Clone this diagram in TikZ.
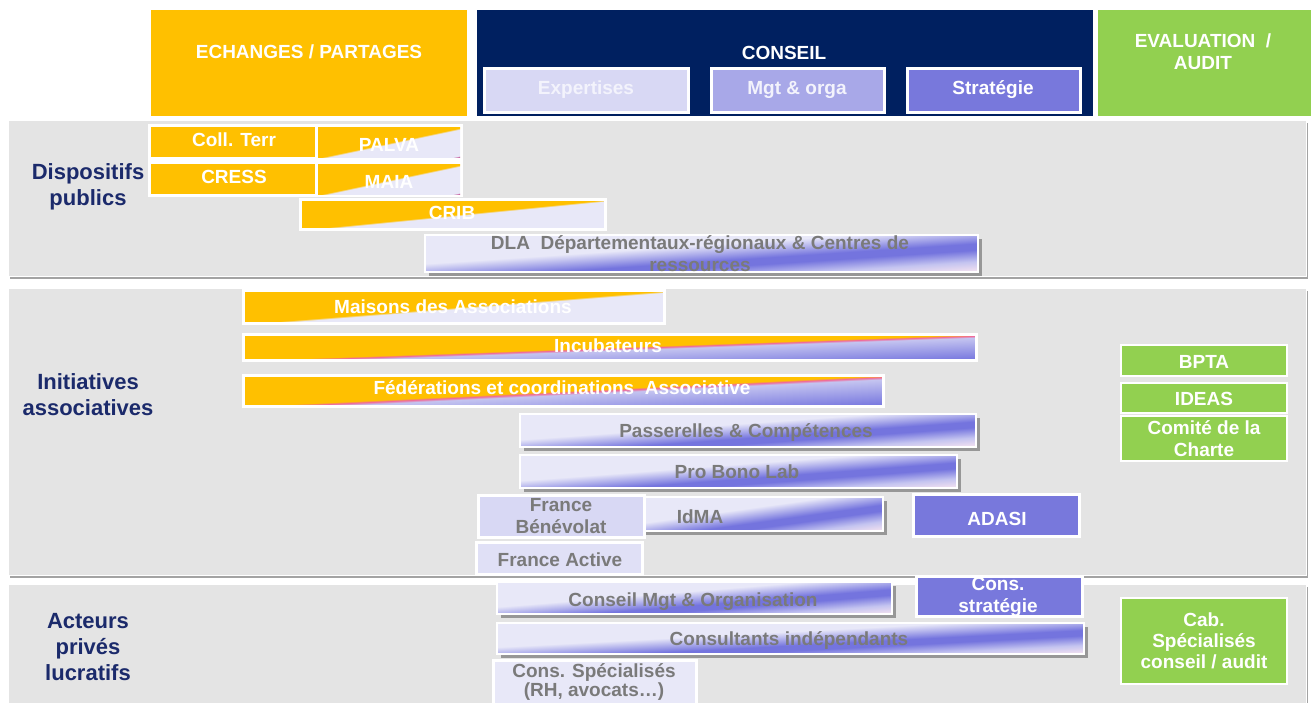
\documentclass[tikz,border=0pt]{standalone}
\usepackage{fontspec}
\setmainfont{Liberation Sans}
\usetikzlibrary{shadows}
\definecolor{orangeC}{HTML}{FFC000}
\definecolor{navyC}{HTML}{002060}
\definecolor{greenC}{HTML}{92D050}
\definecolor{lavA}{HTML}{D8D8F4}
\definecolor{lavB}{HTML}{A8A8E8}
\definecolor{lavC}{HTML}{7878DC}
\definecolor{lavL}{HTML}{E8E8F8}
\definecolor{lavS}{HTML}{C4C4F0}
\definecolor{blueC}{HTML}{7474DE}
\definecolor{pinkC}{HTML}{F8E4F0}
\definecolor{pinkR}{HTML}{F06A9A}
\definecolor{magC}{HTML}{C04890}
\definecolor{bandC}{HTML}{E4E4E4}
\definecolor{labelC}{HTML}{1B2A6B}
\definecolor{grayT}{HTML}{7A7A7A}
\definecolor{expT}{HTML}{F3F3FC}
\pgfdeclareverticalshading{lavbar}{100bp}{color(0bp)=(pinkC); color(14.64bp)=(pinkC); color(25bp)=(lavS); color(36bp)=(blueC); color(42bp)=(blueC); color(58bp)=(lavL); color(100bp)=(lavL)}
\pgfdeclareverticalshading{orbar}{100bp}{color(0bp)=(magC); color(14.64bp)=(magC); color(16.5bp)=(lavL); color(47bp)=(lavL); color(49bp)=(orangeC); color(100bp)=(orangeC)}
\pgfdeclareverticalshading{orblue}{100bp}{color(0bp)=(blueC); color(14.64bp)=(blueC); color(45bp)=(lavS); color(47.5bp)=(pinkR); color(49.5bp)=(orangeC); color(100bp)=(orangeC)}
\newcommand\mkbox[6]{\node[#6,anchor=north west,inner sep=0pt,outer sep=0pt,minimum width={(#4-#2)*1pt},minimum height={(#5-#3)*1pt}] (#1) at (#2,#3) {};}
% name, x1, y1, x2, y2, box style, shading, border style
\newcommand\mkgbar[8]{%
  \mkbox{#1}{#2}{#3}{#4}{#5}{#6}
  \begin{scope}
    \clip (#2,#3) rectangle (#4,#5);
    \pgfmathsetmacro\gsx{(#4-#2)/50}
    \pgfmathsetmacro\gsy{(#5-#3)/50}
    \pgftransformshift{\pgfpointanchor{#1}{center}}
    \pgftransformxscale{\gsx}
    \pgftransformyscale{\gsy}
    \pgftransformrotate{45}
    \pgflowlevelsynccm
    \pgfuseshading{#7}
  \end{scope}
  \path[#8] (#1.north west) rectangle (#1.south east);
}
\newcommand\mklab[5]{\node[#5] (#1) at (#2,#3) {#4};}
\tikzset{
  lbl/.style={font=\fontsize{19}{22}\selectfont\bfseries, inner sep=0pt, align=center, anchor=base},
  wt/.style={lbl, text=white},
  gt/.style={lbl, text=grayT},
  ml/.style={anchor=center},
  side/.style={font=\fontsize{22}{26}\selectfont\bfseries, text=labelC, inner sep=0pt, align=center, anchor=center},
  solidfill/.style={fill=#1, draw=none},
  whiteframe/.style={fill=#1, draw=white, line width=3pt},
  greenbox/.style={fill=greenC, draw=white, line width=1.5pt},
  band/.style={fill=bandC, draw=white, line width=1pt, drop shadow={shadow xshift=2pt, shadow yshift=-3pt, fill=black!60, opacity=.6}},
  gbase/.style={fill=lavL, draw=none, drop shadow={shadow xshift=4pt, shadow yshift=-4pt, fill=black!65, opacity=.55}},
  obase/.style={fill=orangeC, draw=none},
  thinwhite/.style={draw=white, line width=2pt},
  thickwhite/.style={draw=white, line width=3pt},
}
\begin{document}
\begin{tikzpicture}[x=1pt,y=-1pt]
\useasboundingbox[fill=white] (0,0) rectangle (1311,702);
% headers
\mkbox{hEch}{151}{10}{467}{116}{solidfill=orangeC}
\mkbox{hCon}{477}{10}{1093}{116}{solidfill=navyC}
\mkbox{hEva}{1098}{10}{1311}{116}{solidfill=greenC}
\mklab{tEch}{309}{58}{ECHANGES / PARTAGES}{wt}
\mklab{tCon}{784}{59}{CONSEIL}{wt}
\mklab{tEva}{1203}{51.5}{EVALUATION~ /\\AUDIT}{wt,ml}
\mkbox{bExp}{484}{68}{688}{112}{whiteframe=lavA}
\mkbox{bMgt}{711}{68}{884}{112}{whiteframe=lavB}
\mkbox{bStr}{907}{68}{1080}{112}{whiteframe=lavC}
\mklab{tExp}{586}{94}{Expertises}{lbl,text=expT}
\mklab{tMgt}{797}{94}{Mgt \& orga}{lbl,text=expT}
\mklab{tStr}{993}{94}{Stratégie}{wt}
% bands
\mkbox{band1}{8}{120}{1306}{276}{band}
\mkbox{band2}{8}{288}{1306}{575}{band}
\mkbox{band3}{8}{584}{1306}{712}{band}
\mklab{sDis}{88}{187}{Dispositifs\\publics}{side}
\mklab{sIni}{88}{395}{Initiatives\\associatives}{side}
\mklab{sAct}{88}{647}{Acteurs\\privés\\lucratifs}{side}
% band 1
\mkbox{gFrame}{148}{124}{463}{197}{solidfill=white}
\mkbox{bColl}{151}{127}{315}{157}{solidfill=orangeC}
\mkgbar{bPalva}{318}{127}{460}{157}{obase}{orbar}{draw=none}
\mkbox{bCress}{151}{164}{315}{194}{solidfill=orangeC}
\mkgbar{bMaia}{318}{164}{460}{194}{obase}{orbar}{draw=none}
\mkgbar{bCrib}{300}{199}{605}{229}{obase}{orbar}{thickwhite}
\mkgbar{bDla}{425}{235}{978}{272}{gbase}{lavbar}{thinwhite}
\mklab{tColl}{234}{146}{Coll. Terr}{wt}
\mklab{tPalva}{389}{151}{PALVA}{wt}
\mklab{tCress}{234}{183}{CRESS}{wt}
\mklab{tMaia}{389}{188}{MAIA}{wt}
\mklab{tCrib}{452}{219}{CRIB}{wt}
\mklab{tDla}{700}{253.5}{DLA~ Départementaux-régionaux \& Centres de\\ressources}{gt,ml}
% band 2
\mkgbar{bMais}{243}{290}{664}{323}{obase}{orbar}{thickwhite}
\mkgbar{bIncu}{243}{334}{976}{360}{obase}{orblue}{thickwhite}
\mkgbar{bFede}{243}{375}{883}{406}{obase}{orblue}{thickwhite}
\mkgbar{bPass}{520}{414}{976}{447}{gbase}{lavbar}{thinwhite}
\mkgbar{bProb}{520}{455}{957}{488}{gbase}{lavbar}{thinwhite}
\mkgbar{bIdma}{640}{497}{883}{531}{gbase}{lavbar}{thinwhite}
\mkbox{bFben}{478}{495}{644}{537}{whiteframe=lavA}
\mkbox{bAdasi}{913}{494}{1079}{536}{whiteframe=lavC}
\mkbox{bFact}{476}{542}{642}{574}{whiteframe=lavA!80!white}
\mklab{tMais}{453}{313}{Maisons des Associations}{wt}
\mklab{tIncu}{608}{352}{Incubateurs}{wt}
\mklab{tFede}{562}{394}{Fédérations et coordinations~ Associative}{wt}
\mklab{tPass}{746}{437}{Passerelles \& Compétences}{gt}
\mklab{tProb}{737}{478}{Pro Bono Lab}{gt}
\mklab{tIdma}{700}{523}{IdMA}{gt}
\mklab{tFben}{561}{516}{France\\Bénévolat}{gt,ml}
\mklab{tAdasi}{997}{525}{ADASI}{wt}
\mklab{tFact}{560}{566}{France Active}{gt}
\mkbox{bBpta}{1121}{345}{1287}{376}{greenbox}
\mkbox{bIdeas}{1121}{383}{1287}{413}{greenbox}
\mkbox{bComi}{1121}{416}{1287}{461}{greenbox}
\mklab{tBpta}{1204}{368}{BPTA}{wt}
\mklab{tIdeas}{1204}{405}{IDEAS}{wt}
\mklab{tComi}{1204}{439}{Comité de la\\Charte}{wt,ml}
% band 3
\mkgbar{bCmo}{497}{582}{892}{614}{gbase}{lavbar}{thinwhite}
\mkbox{bCst}{916}{576}{1082}{616}{whiteframe=lavC}
\mkgbar{bCind}{497}{623}{1084}{654}{gbase}{lavbar}{thinwhite}
\mkbox{bCsp}{493}{660}{696}{712}{whiteframe=lavL}
\mkbox{bCab}{1121}{598}{1287}{684}{greenbox}
\mklab{tCmo}{693}{606}{Conseil Mgt \& Organisation}{gt}
\begin{scope}
\clip (918,578) rectangle (1080,614);
\mklab{tCst}{998}{597}{Cons.\\stratégie}{wt,ml}
\end{scope}
\mklab{tCind}{789}{645}{Consultants indépendants}{gt}
\mklab{tCsp}{594}{682}{Cons. Spécialisés\\(RH, avocats…)}{gt,ml,font=\fontsize{19}{16}\selectfont\bfseries}
\mklab{tCab}{1204}{641}{Cab.\\Spécialisés\\conseil / audit}{wt,ml,font=\fontsize{19}{21}\selectfont\bfseries}
\end{tikzpicture}
\end{document}
